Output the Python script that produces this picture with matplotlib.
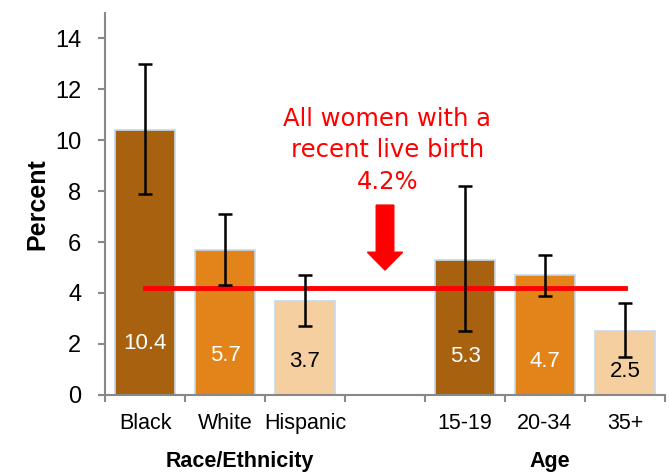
import matplotlib
matplotlib.use("Agg")
import matplotlib.pyplot as plt
import numpy as np

plt.rcParams["font.family"] = ["Liberation Sans", "DejaVu Sans"]

categories = ["Black", "White", "Hispanic", "", "15-19", "20-34", "35+"]
values = [10.4, 5.7, 3.7, None, 5.3, 4.7, 2.5]
ci_low = [7.9, 4.3, 2.7, None, 2.5, 3.9, 1.5]
ci_high = [13.0, 7.1, 4.7, None, 8.2, 5.5, 3.6]
overall = 4.2

colors = ["#a8620f", "#e3841a", "#f6cfa0", None, "#a8620f", "#e3841a", "#f6cfa0"]
label_colors = ["white", "white", "black", None, "white", "white", "black"]
label_y = [2.0, 1.55, 1.3, None, 1.5, 1.3, 0.9]

fig = plt.figure(figsize=(6.69, 4.74), dpi=100)
ax = fig.add_axes([0.157, 0.167, 0.837, 0.806])

x = np.arange(len(categories))
for i, v in enumerate(values):
    if v is None:
        continue
    ax.bar(x[i], v, width=0.75, color=colors[i], edgecolor="#c6d9ec", lw=1.2, zorder=2)
    ax.errorbar(x[i], v, yerr=[[v - ci_low[i]], [ci_high[i] - v]], fmt="none",
                ecolor="black", elinewidth=1.8, capsize=5, capthick=1.8, zorder=4)
    ax.text(x[i], label_y[i], f"{v:.1f}", ha="center", va="center",
            color=label_colors[i], fontsize=16, zorder=5)

# overall line
ax.plot([0, 6], [overall, overall], color="red", lw=3.5, zorder=3)

# arrow + annotation
ax.arrow(3, 7.45, 0, -2.55, width=0.22, head_width=0.44, head_length=0.7,
         length_includes_head=True, color="red", zorder=5)
ax.text(3.03, 9.6, f"All women with a\nrecent live birth\n{overall}%", ha="center",
        va="center", color="red", fontsize=17.5, linespacing=1.4,
        family="DejaVu Sans")

ax.set_xlim(-0.5, 6.5)
ax.set_ylim(0, 15)
ax.set_yticks(range(0, 15, 2))
ax.set_xticks(x)
ax.set_xticklabels(categories, fontsize=15.5)
ax.set_xticks(np.arange(-0.5, 7, 1), minor=True)
ax.tick_params(axis="x", which="major", length=0, pad=13)
ax.tick_params(axis="x", which="minor", length=5, color="#888888", width=1.5)
ax.tick_params(axis="y", labelsize=17, length=5, color="#888888", width=1.5, pad=12)
for s in ["top", "right"]:
    ax.spines[s].set_visible(False)
for s in ["left", "bottom"]:
    ax.spines[s].set_color("#888888")
    ax.spines[s].set_linewidth(1.5)

ax.set_ylabel("Percent", fontsize=18, fontweight="bold", labelpad=4)
fig.text(240 / 669, 1 - 461 / 474, "Race/Ethnicity", ha="center", va="center",
         fontsize=15.5, fontweight="bold")
fig.text(550 / 669, 1 - 462 / 474, "Age", ha="center", va="center",
         fontsize=15.5, fontweight="bold")

fig.savefig("out.png", dpi=100)
